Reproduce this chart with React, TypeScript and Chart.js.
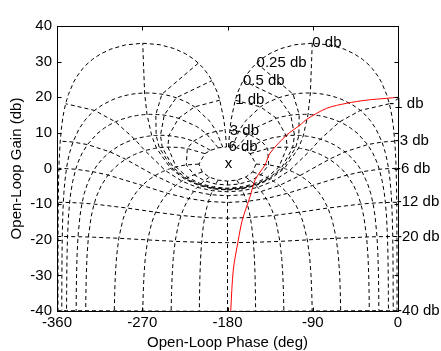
import React, { useEffect, useRef } from "react";
import { Chart, registerables } from "chart.js";

Chart.register(...registerables);

// Open-loop frequency response (phase in deg, gain in dB)
const OL_PHASE = [-176.6, -173.9, -168.6, -164.4, -156.2, -150.5, -140.4, -135.1, -117.5, -103.4, -96.4, -75.3, -54.2, -33.0, -11.9, 0];
const OL_GAIN = [-40, -28.5, -20.1, -14.5, -7.9, -3.0, 1.0, 4.3, 9.4, 12.2, 13.8, 16.9, 18.3, 19.2, 19.7, 20.0];

// Nichols grid: closed-loop gain contours (labelled) and closed-loop phase contours
const CL_GAIN_DB = [6, 3, 1, 0.5, 0.25, 0, -1, -3, -6, -12, -20, -40];
const CL_PHASE_DEG = [-1, -5, -10, -20, -30, -60, -90, -120, -150, -180, -210, -240, -270, -300, -330, -340, -350, -355, -359];
const PHASE_LINE_GAINS_DB = [6, 3, 2, 1, 0.75, 0.5, 0.4, 0.3, 0.25, 0.2, 0.15, 0.1, 0.05, 0, -0.05, -0.1, -0.15, -0.2, -0.25, -0.3, -0.4, -0.5, -0.75, -1, -1.25, -1.5, -2, -3, -4, -5, -6, -8, -10, -12, -15, -20, -25, -30, -35, -40];

// Axis ticks
const X_TICKS = [-360, -270, -180, -90, 0];
const Y_TICKS = [-40, -30, -20, -10, 0, 10, 20, 30, 40];

const FONT_FAMILY = '"Liberation Sans", Arial, Helvetica, sans-serif';
const FONT_SIZE = 15;

function nicholsPoint(mDb: number, thetaDeg: number) {
  const M = Math.pow(10, mDb / 20);
  const th = (thetaDeg * Math.PI) / 180;
  const tr = M * Math.cos(th);
  const ti = M * Math.sin(th);
  const dr = 1 - tr;
  const di = -ti;
  const gain = 20 * Math.log10(M / Math.hypot(dr, di));
  const phase = thetaDeg - (Math.atan2(di, dr) * 180) / Math.PI;
  return { x: phase, y: gain };
}

export default function App() {
  const ref = useRef<HTMLCanvasElement | null>(null);

  useEffect(() => {
    document.body.style.margin = "0";
    const canvas = ref.current;
    if (!canvas) return;

    const gridStyle = {
      showLine: true,
      pointRadius: 0,
      borderColor: "#000000",
      borderWidth: 1,
      borderDash: [4, 3],
      fill: false,
      tension: 0,
    };

    const datasets: any[] = [];
    datasets.push({
      label: "response",
      data: OL_PHASE.map((p, i) => ({ x: p, y: OL_GAIN[i] })),
      showLine: true,
      pointRadius: 0,
      borderColor: "#ff0000",
      backgroundColor: "#ff0000",
      borderWidth: 1,
      fill: false,
      tension: 0.3,
    });
    CL_GAIN_DB.forEach((m) => {
      datasets.push({
        label: `M ${m}`,
        data: CL_PHASE_DEG.map((t) => nicholsPoint(m, t)),
        ...gridStyle,
      });
    });
    CL_PHASE_DEG.forEach((t) => {
      datasets.push({
        label: `N ${t}`,
        data: PHASE_LINE_GAINS_DB.map((m) => nicholsPoint(m, t)),
        ...gridStyle,
      });
    });

    const font = { family: FONT_FAMILY, size: FONT_SIZE, lineHeight: 1.2 };

    const framePlugin = {
      id: "frame",
      afterDatasetsDraw(chart: any) {
        const { ctx, chartArea } = chart;
        const xs = chart.scales.x;
        const ys = chart.scales.y;
        ctx.save();
        ctx.strokeStyle = "#000";
        ctx.lineWidth = 1;
        ctx.setLineDash([]);
        const l = Math.round(chartArea.left) + 0.5;
        const r = Math.round(chartArea.right) + 0.5;
        const t = Math.round(chartArea.top) + 0.5;
        const b = Math.round(chartArea.bottom) + 0.5;
        ctx.strokeRect(l, t, r - l, b - t);
        const tl = 4;
        ctx.beginPath();
        X_TICKS.forEach((v) => {
          const px = Math.round(xs.getPixelForValue(v)) + 0.5;
          ctx.moveTo(px, b);
          ctx.lineTo(px, b - tl);
          ctx.moveTo(px, t);
          ctx.lineTo(px, t + tl);
        });
        Y_TICKS.forEach((v) => {
          const py = Math.round(ys.getPixelForValue(v)) + 0.5;
          ctx.moveTo(l, py);
          ctx.lineTo(l + tl, py);
          ctx.moveTo(r, py);
          ctx.lineTo(r - tl, py);
        });
        ctx.stroke();

        // contour labels
        ctx.fillStyle = "#000";
        ctx.font = `${FONT_SIZE}px ${FONT_FAMILY}`;
        ctx.textAlign = "left";
        ctx.textBaseline = "middle";
        CL_GAIN_DB.forEach((m) => {
          const p = nicholsPoint(m, CL_PHASE_DEG[0]);
          const px = xs.getPixelForValue(p.x);
          const py = ys.getPixelForValue(p.y);
          ctx.fillText(`${m} db`, px, py);
        });
        // critical point mark
        ctx.textAlign = "center";
        ctx.textBaseline = "alphabetic";
        ctx.fillText("x", xs.getPixelForValue(-180) + 1, ys.getPixelForValue(0) - 1);
        ctx.restore();
      },
    };

    const chart = new Chart(canvas, {
      type: "scatter",
      data: { datasets },
      options: {
        animation: false,
        responsive: false,
        maintainAspectRatio: false,
        events: [],
        layout: { padding: { left: 0, top: 26, right: 43, bottom: 0 } },
        plugins: {
          legend: { display: false },
          tooltip: { enabled: false },
          title: { display: false },
        },
        scales: {
          x: {
            type: "linear",
            position: "bottom",
            min: -360,
            max: 0,
            afterBuildTicks: (s: any) => {
              s.ticks = X_TICKS.map((v) => ({ value: v }));
            },
            ticks: {
              font,
              color: "#000",
              padding: 3,
              maxRotation: 0,
              autoSkip: false,
            },
            grid: { display: true, drawOnChartArea: false, drawTicks: false },
            border: { display: true, color: "#000", width: 1 },
            title: {
              display: true,
              text: "Open-Loop Phase (deg)",
              font,
              color: "#000",
              padding: { top: 0, bottom: -1 },
            },
            afterFit: (s: any) => {
              s.height = 40;
            },
          },
          y: {
            type: "linear",
            position: "left",
            min: -40,
            max: 40,
            afterBuildTicks: (s: any) => {
              s.ticks = Y_TICKS.map((v) => ({ value: v }));
            },
            ticks: {
              font,
              color: "#000",
              padding: 5,
              autoSkip: false,
            },
            grid: { display: true, drawOnChartArea: false, drawTicks: false },
            border: { display: true, color: "#000", width: 1 },
            title: {
              display: true,
              text: "Open-Loop Gain (db)",
              font,
              color: "#000",
              padding: { top: 8, bottom: 0 },
            },
            afterFit: (s: any) => {
              s.width = 57;
            },
          },
        },
      } as any,
      plugins: [framePlugin],
    });

    return () => {
      chart.destroy();
    };
  }, []);

  return (
    <div style={{ width: 441, height: 351, background: "#fff" }}>
      <canvas ref={ref} width={441} height={351} style={{ display: "block", width: 441, height: 351 }} />
    </div>
  );
}
